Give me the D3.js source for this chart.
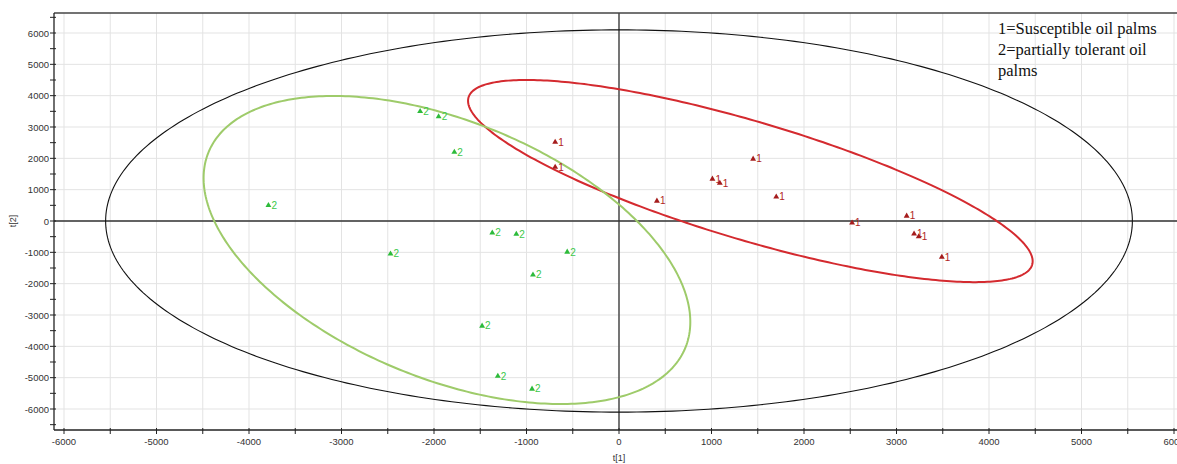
<!DOCTYPE html>
<html>
<head>
<meta charset="utf-8">
<script src="https://cdn.jsdelivr.net/npm/d3@7"></script>
<style>
    body { margin: 0; background: #fff; }
    svg { display: block; }
</style>
</head>
<body>
<svg width="1177" height="464"></svg>
<script>
// scores, t[1] / t[2]
var susceptibleT1 = [-690, -690, 410, 1010, 1090, 1450, 1700, 2520, 3110, 3190, 3240, 3490];
var susceptibleT2 = [2520, 1720, 640, 1340, 1210, 1980, 770, -60, 160, -410, -500, -1150];
var tolerantT1 = [-3790, -2150, -1950, -1780, -1370, -1110, -2470, -560, -930, -1480, -1310, -940];
var tolerantT2 = [500, 3500, 3330, 2200, -380, -420, -1050, -990, -1720, -3350, -4950, -5360];
var groupLabels = ['1', '2'];

// ellipses: hotelling T2, group 1, group 2 (centre, semi axes, rotation in degrees)
var ellipseCx = [0, 1420, -1860];
var ellipseCy = [0, 1275, -925];
var ellipseA = [5550, 4206, 5106];
var ellipseB = [6100, 1425, 2240];
var ellipseAngle = [0, 133, 107.5];

var xTickValues = [-6000, -5000, -4000, -3000, -2000, -1000, 0, 1000, 2000, 3000, 4000, 5000, 6000];
var yTickValues = [-6000, -5000, -4000, -3000, -2000, -1000, 0, 1000, 2000, 3000, 4000, 5000, 6000];
var legendLines = ['1=Susceptible oil palms', '2=partially tolerant oil', 'palms'];

var svg = d3.select('svg');
var plot = { l: 54, t: 13, r: 1177, b: 430 };

var xScale = d3.scaleLinear().domain([-6000, 6000]).range([64, 1174]);
var yScale = d3.scaleLinear().domain([-6000, 6000]).range([409, 33]);

var minorX = d3.range(-6000, 6001, 500);
var minorY = d3.range(-6500, 6501, 500);

// grid
var grid = svg.append('g');
grid.selectAll('.vgrid').data(minorX).enter().append('line')
    .attr('x1', d => xScale(d)).attr('x2', d => xScale(d))
    .attr('y1', plot.t).attr('y2', plot.b)
    .attr('stroke', '#e3e3e3').attr('stroke-width', 1);
grid.selectAll('.hgrid').data(yTickValues).enter().append('line')
    .attr('x1', plot.l).attr('x2', plot.r)
    .attr('y1', d => yScale(d)).attr('y2', d => yScale(d))
    .attr('stroke', '#e3e3e3').attr('stroke-width', 1);

// zero lines
svg.append('line').attr('x1', xScale(0)).attr('x2', xScale(0))
    .attr('y1', plot.t).attr('y2', plot.b).attr('stroke', '#333').attr('stroke-width', 1.3);
svg.append('line').attr('x1', plot.l).attr('x2', plot.r)
    .attr('y1', yScale(0)).attr('y2', yScale(0)).attr('stroke', '#333').attr('stroke-width', 1.3);

// ellipses
var ellipseColors = ['#111', '#d42a2f', '#9ecb6a'];
var ellipseWidths = [1.1, 2, 2];
var line = d3.line().x(d => xScale(d[0])).y(d => yScale(d[1])).curve(d3.curveLinearClosed);
ellipseCx.forEach(function (cx, i) {
    var rot = ellipseAngle[i] * Math.PI / 180;
    var pts = d3.range(0, 360, 1).map(function (deg) {
        var t = deg * Math.PI / 180;
        var u = ellipseA[i] * Math.cos(t), v = ellipseB[i] * Math.sin(t);
        return [cx + u * Math.cos(rot) - v * Math.sin(rot), ellipseCy[i] + u * Math.sin(rot) + v * Math.cos(rot)];
    });
    svg.append('path').attr('d', line(pts))
        .attr('fill', 'none').attr('stroke', ellipseColors[i]).attr('stroke-width', ellipseWidths[i]);
});

// points
var groups = [
    { t1: susceptibleT1, t2: susceptibleT2, label: groupLabels[0], mark: '#a51c1c', text: '#b02424' },
    { t1: tolerantT1, t2: tolerantT2, label: groupLabels[1], mark: '#2dbb3a', text: '#3cc84a' }
];
var tri = d3.symbol().type(d3.symbolTriangle).size(15);
groups.forEach(function (g) {
    var rows = g.t1.map((x, i) => ({ x: x, y: g.t2[i] }));
    var pg = svg.append('g').selectAll('g').data(rows).enter().append('g')
        .attr('transform', d => 'translate(' + xScale(d.x) + ',' + yScale(d.y) + ')');
    pg.append('path').attr('d', tri).attr('fill', g.mark);
    pg.append('text').attr('x', 3).attr('y', 3.5).text(g.label)
        .attr('font-family', 'Liberation Sans, Arial, sans-serif').attr('font-size', 10).attr('fill', g.text);
});

// frame
svg.append('line').attr('x1', plot.l).attr('x2', plot.r).attr('y1', plot.t).attr('y2', plot.t)
    .attr('stroke', '#444').attr('stroke-width', 1.3);
svg.append('line').attr('x1', plot.l).attr('x2', plot.l).attr('y1', plot.t).attr('y2', plot.b)
    .attr('stroke', '#222').attr('stroke-width', 1.3);
svg.append('line').attr('x1', plot.l).attr('x2', plot.r).attr('y1', plot.b).attr('y2', plot.b)
    .attr('stroke', '#222').attr('stroke-width', 1.3);

// ticks
svg.append('g').selectAll('line').data(minorX).enter().append('line')
    .attr('x1', d => xScale(d)).attr('x2', d => xScale(d))
    .attr('y1', plot.b - 2).attr('y2', plot.b + 4).attr('stroke', '#222');
svg.append('g').selectAll('line').data(minorY).enter().append('line')
    .attr('y1', d => yScale(d)).attr('y2', d => yScale(d))
    .attr('x1', plot.l - 4).attr('x2', plot.l + 2).attr('stroke', '#222');

var tickFont = 'Liberation Sans, Arial, sans-serif';
svg.append('g').selectAll('text').data(xTickValues).enter().append('text')
    .attr('x', d => xScale(d)).attr('y', 445).attr('text-anchor', 'middle')
    .attr('font-family', tickFont).attr('font-size', 9.5).attr('fill', '#333')
    .text(d => d);
svg.append('g').selectAll('text').data(yTickValues).enter().append('text')
    .attr('x', 49).attr('y', d => yScale(d) + 3.5).attr('text-anchor', 'end')
    .attr('font-family', tickFont).attr('font-size', 9.5).attr('fill', '#333')
    .text(d => d);

// axis titles
svg.append('text').attr('x', xScale(0)).attr('y', 461).attr('text-anchor', 'middle')
    .attr('font-family', tickFont).attr('font-size', 9).attr('fill', '#333').text('t[1]');
svg.append('text').attr('transform', 'translate(16,' + yScale(0) + ') rotate(-90)')
    .attr('text-anchor', 'middle')
    .attr('font-family', tickFont).attr('font-size', 9).attr('fill', '#333').text('t[2]');

// legend note
svg.append('g').selectAll('text').data(legendLines).enter().append('text')
    .attr('x', 998).attr('y', (d, i) => 34 + i * 21)
    .attr('font-family', 'Liberation Serif, Times New Roman, serif').attr('font-size', 16.5)
    .attr('fill', '#111').text(d => d);
</script>
</body>
</html>
